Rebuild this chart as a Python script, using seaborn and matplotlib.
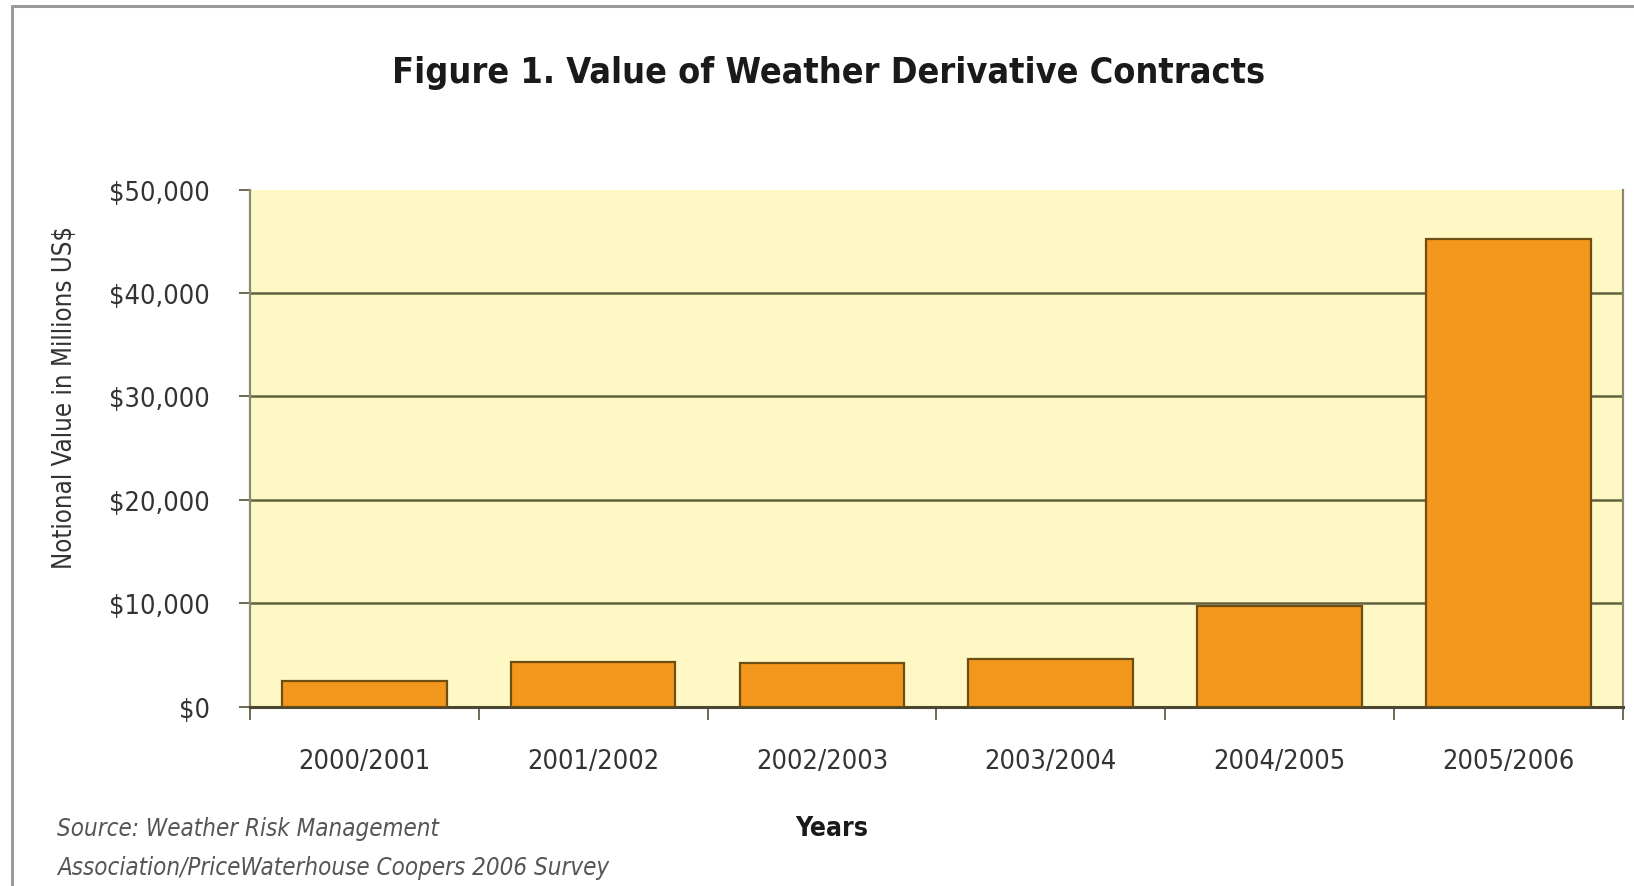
import matplotlib
matplotlib.use("Agg")
import matplotlib.pyplot as plt
import seaborn as sns
import pandas as pd
from matplotlib.lines import Line2D
from matplotlib.ticker import FuncFormatter, FixedLocator

years = ["2000/2001", "2001/2002", "2002/2003", "2003/2004", "2004/2005", "2005/2006"]
values = [2500, 4300, 4200, 4600, 9700, 45200]
yticks = [0, 10000, 20000, 30000, 40000, 50000]

title = "Figure 1. Value of Weather Derivative Contracts"
ylabel = "Notional Value in Millions US$"
xlabel = "Years"
source = "Source: Weather Risk Management\nAssociation/PriceWaterhouse Coopers 2006 Survey"

sns.set_theme(style="white")
narrow = ["DejaVu Sans"]
plt.rcParams["font.family"] = narrow
plt.rcParams["font.stretch"] = "condensed"

df = pd.DataFrame({"year": years, "value": values})

fig = plt.figure(figsize=(16.34, 8.87), dpi=100)
fig.patch.set_facecolor("white")
ax = fig.add_axes([0.153, 0.2023, 0.840, 0.5827])
ax.set_facecolor("#FEF9C4")

sns.barplot(data=df, x="year", y="value", color="#F3981D", saturation=1,
            width=0.72, edgecolor="#6E4E12", linewidth=1.6, ax=ax, zorder=3)

ax.set_ylim(0, 50000)
ax.set_xlim(-0.5, len(years) - 0.5)
ax.yaxis.set_major_locator(FixedLocator(yticks))
ax.yaxis.set_major_formatter(FuncFormatter(lambda v, p: f"${int(v):,}"))
ax.grid(axis="y", color="#62613F", linewidth=1.8, zorder=1)
ax.set_axisbelow(True)
ax.get_ygridlines()[-1].set_visible(False)

ax.spines["top"].set_visible(False)
ax.spines["left"].set_color("#8A8A70")
ax.spines["left"].set_linewidth(1.6)
ax.spines["right"].set_color("#8A8A70")
ax.spines["right"].set_linewidth(1.6)
ax.spines["bottom"].set_color("#4A4630")
ax.spines["bottom"].set_linewidth(2.2)

ax.tick_params(axis="y", which="major", left=True, length=8, width=1.4,
               color="#6B6A55", labelsize=19.5, labelcolor="#333333", pad=21)
ax.tick_params(axis="x", which="major", bottom=False, length=0,
               labelsize=19.5, labelcolor="#333333", pad=30)
ax.set_xticks([i + 0.5 for i in range(-1, len(years))], minor=True)
ax.tick_params(axis="x", which="minor", bottom=True, length=9, width=1.4,
               color="#6B6A55")
ax.set_xlabel("")
ax.set_ylabel("")

fig.text(0.507, 0.918, title, ha="center", va="center", fontsize=25.8,
         fontweight="bold", color="#1A1A1A", stretch="condensed")
fig.text(0.0395, 0.5524, ylabel, rotation=90, ha="center", va="center",
         fontsize=18.5, color="#333333", stretch="condensed")
fig.text(0.509, 0.065, xlabel, ha="center", va="center", fontsize=19,
         fontweight="bold", color="#1A1A1A", stretch="condensed")
fig.text(0.035, 0.0431, source, ha="left", va="center", fontsize=17.3,
         style="italic", color="#555555", linespacing=1.79, stretch="condensed")

# outer frame
fig.add_artist(Line2D([0.0074, 1.0], [0.9918, 0.9918], transform=fig.transFigure,
                      color="#9A9A9A", linewidth=2.2))
fig.add_artist(Line2D([0.0074, 0.0074], [0.0, 0.9918], transform=fig.transFigure,
                      color="#9A9A9A", linewidth=2.2))

fig.savefig("out.png", dpi=100, facecolor="white")
